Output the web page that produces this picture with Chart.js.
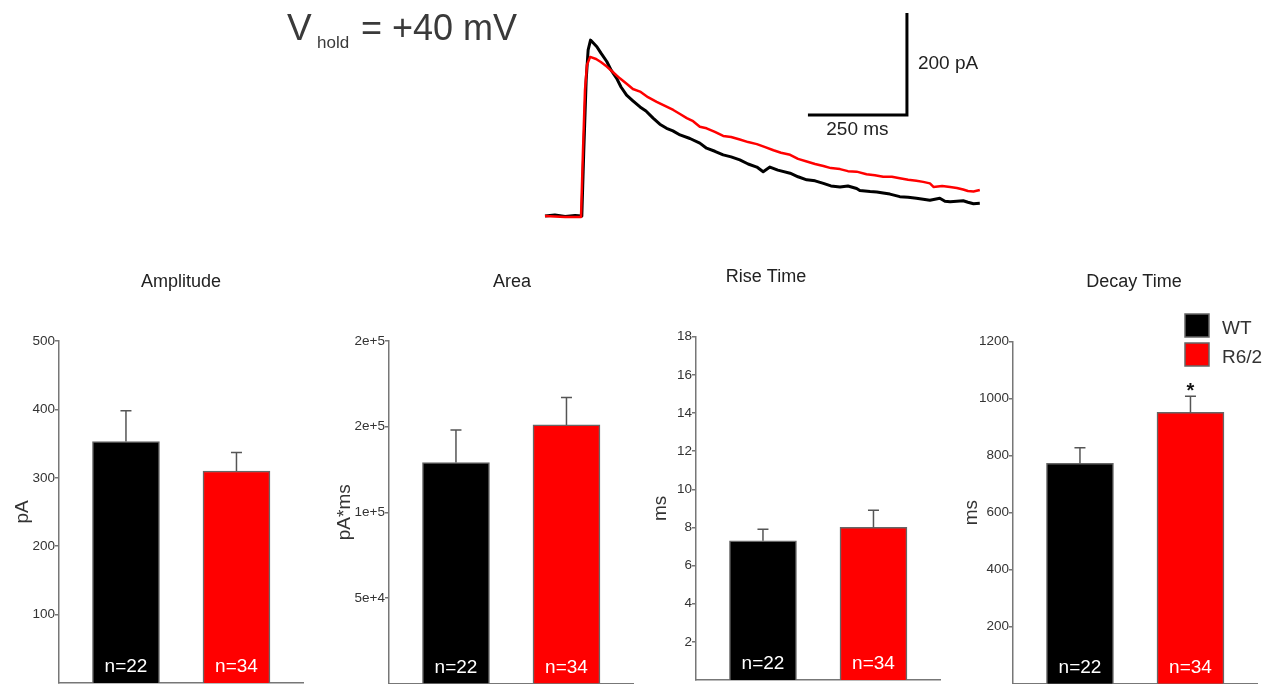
<!DOCTYPE html>
<html>
<head>
<meta charset="utf-8">
<script src="https://cdn.jsdelivr.net/npm/chart.js@4.4.1/dist/chart.umd.min.js"></script>
<style>
  body { margin: 0; background: #fff; width: 1271px; height: 684px; overflow: hidden; position: relative; }
  canvas { position: absolute; }
</style>
</head>
<body>
<canvas id="trace" width="730" height="240" style="left:270px;top:0px"></canvas>
<canvas id="amp"></canvas>
<canvas id="area"></canvas>
<canvas id="rise"></canvas>
<canvas id="decay"></canvas>
<script>
const FONT = "'Liberation Sans', Arial, sans-serif";
Chart.defaults.font.family = FONT;

// groups
const groups = ['WT', 'R6/2'];
const groupColors = ['#000000', '#ff0000'];
const groupN = ['n=22', 'n=34'];

// amplitude (pA)
const ampMean = [353, 310];
const ampSem = [45, 27];
const ampTicks = [100, 200, 300, 400, 500];
const ampTickLabels = ['100', '200', '300', '400', '500'];

// area (pA*ms)
const areaMean = [129000, 151000];
const areaSem = [19000, 16000];
const areaTicks = [50000, 100000, 150000, 200000];
const areaTickLabels = ['5e+4', '1e+5', '2e+5', '2e+5'];

// rise time (ms)
const riseMean = [7.3, 8.0];
const riseSem = [0.6, 0.9];
const riseTicks = [2, 4, 6, 8, 10, 12, 14, 16, 18];
const riseTickLabels = ['2', '4', '6', '8', '10', '12', '14', '16', '18'];

// decay time (ms)
const decayMean = [773, 952];
const decaySem = [55, 57];
const decayTicks = [200, 400, 600, 800, 1000, 1200];
const decayTickLabels = ['200', '400', '600', '800', '1000', '1200'];
const decaySig = ['', '*'];

// example currents at +40 mV (ms, pA from baseline)
const wtTime = [0, 25, 51, 76, 93, 98, 104, 109, 115, 131, 141, 156, 167, 181, 192, 206, 222, 240, 255,
  273, 290, 307, 323, 341, 366, 391, 408, 429, 450, 470, 492, 513, 535, 551, 568, 588, 619, 639, 661,
  682, 703, 722, 745, 765, 787, 795, 821, 838, 854, 871, 896, 917, 938, 955, 972, 997, 1010, 1023, 1040,
  1056, 1068, 1082, 1098];
const wtCurrent = [-2, 0, -3, -1, -2, 127, 265, 324, 343, 330, 318, 301, 284, 268, 251, 235, 224, 212, 204,
  190, 178, 170, 165, 157, 150, 141, 131, 125, 118, 114, 108, 100, 94, 85, 94, 88, 82, 75, 69,
  67, 62, 57, 55, 57, 52, 48, 46, 45, 43, 41, 36, 35, 33, 31, 29, 33, 27, 26, 27,
  28, 25, 22, 23];
const r62Time = [0, 25, 51, 76, 91, 96, 101, 106, 114, 129, 141, 156, 172, 189, 207, 222, 240, 260, 282,
  303, 324, 341, 358, 374, 391, 408, 429, 450, 470, 492, 513, 535, 556, 577, 596, 619, 639, 661, 682,
  703, 722, 745, 765, 787, 812, 833, 854, 876, 896, 917, 938, 955, 972, 981, 1003, 1023, 1040, 1056, 1068,
  1082, 1098];
const r62Current = [-2, -3, -4, -4, -4, 127, 245, 294, 310, 306, 300, 291, 280, 268, 257, 247, 242, 231, 222,
  214, 206, 198, 190, 184, 173, 170, 163, 155, 153, 148, 143, 139, 133, 127, 122, 118, 110, 105, 100,
  96, 92, 90, 86, 85, 80, 78, 75, 75, 72, 69, 67, 65, 62, 55, 57, 55, 53, 50, 47,
  46, 49];

// scale bar
const barCornerMs = 914, barCornerPa = 196;
const barLenMs = 250, barLenPa = 200;

const pts = (xs, ys) => xs.map((x, i) => ({ x: x, y: ys[i] }));

const traceText = {
  id: 'traceText',
  afterDraw(chart) {
    const ctx = chart.ctx, xs = chart.scales.x, ys = chart.scales.y;
    ctx.save();
    ctx.fillStyle = '#3a3a3a';
    ctx.textBaseline = 'alphabetic';
    ctx.textAlign = 'left';
    ctx.font = '37px ' + FONT;
    ctx.fillText('V', 17, 40);
    ctx.font = '17px ' + FONT;
    ctx.fillText('hold', 47, 48);
    ctx.font = '36px ' + FONT;
    ctx.fillText('= +40 mV', 91, 40);

    ctx.fillStyle = '#222';
    ctx.font = '19px ' + FONT;
    ctx.textBaseline = 'middle';
    ctx.fillText(barLenPa + ' pA', xs.getPixelForValue(barCornerMs) + 11, ys.getPixelForValue(barCornerPa + barLenPa / 2));
    ctx.textAlign = 'center';
    ctx.fillText(barLenMs + ' ms', xs.getPixelForValue(barCornerMs - barLenMs / 2), ys.getPixelForValue(barCornerPa) + 15);
    ctx.restore();
  }
};

new Chart(document.getElementById('trace'), {
  type: 'line',
  data: {
    datasets: [
      { data: pts(r62Time, r62Current), borderColor: '#ff0000', borderWidth: 2.5, borderJoinStyle: 'round' },
      { data: pts(wtTime, wtCurrent), borderColor: '#000000', borderWidth: 3, borderJoinStyle: 'round' },
      { data: [{ x: barCornerMs - barLenMs, y: barCornerPa }, { x: barCornerMs, y: barCornerPa }, { x: barCornerMs, y: barCornerPa + barLenPa }],
        borderColor: '#000000', borderWidth: 3, borderJoinStyle: 'miter', borderCapStyle: 'butt' }
    ]
  },
  options: {
    animation: false, responsive: false, events: [],
    layout: { padding: 0 },
    elements: { point: { radius: 0 }, line: { tension: 0 } },
    scales: {
      x: { type: 'linear', display: false, min: -694.4, max: 1149.0 },
      y: { type: 'linear', display: false, min: -49.0, max: 421.6 }
    },
    plugins: { legend: { display: false }, tooltip: { enabled: false } }
  },
  plugins: [traceText]
});

// error bars, n labels, titles, legend
const panelPlugin = {
  id: 'panel',
  afterDatasetsDraw(chart, args, o) {
    const ctx = chart.ctx, y = chart.scales.y;
    const meta = chart.getDatasetMeta(0);
    ctx.save();
    meta.data.forEach((bar, i) => {
      const yTop = y.getPixelForValue(o.mean[i] + o.sem[i]);
      ctx.strokeStyle = '#555';
      ctx.lineWidth = 1.5;
      ctx.beginPath();
      ctx.moveTo(bar.x, bar.y);
      ctx.lineTo(bar.x, yTop);
      ctx.moveTo(bar.x - 5.5, yTop);
      ctx.lineTo(bar.x + 5.5, yTop);
      ctx.stroke();

      ctx.fillStyle = '#ffffff';
      ctx.font = '19px ' + FONT;
      ctx.textAlign = 'center';
      ctx.textBaseline = 'alphabetic';
      ctx.fillText(groupN[i], bar.x, chart.chartArea.bottom - 11);

      if (o.sig && o.sig[i]) {
        ctx.fillStyle = '#111';
        ctx.font = 'bold 20px ' + FONT;
        ctx.fillText(o.sig[i], bar.x, yTop + 1);
      }
    });

    ctx.fillStyle = '#222';
    ctx.font = '18px ' + FONT;
    ctx.textAlign = 'center';
    ctx.fillText(o.title, o.titleX, o.titleY);

    if (o.legend) {
      groups.forEach((g, i) => {
        const bx = o.legendX, by = o.legendY + i * 29;
        ctx.fillStyle = groupColors[i];
        ctx.fillRect(bx, by, 24, 23);
        ctx.strokeStyle = '#666';
        ctx.lineWidth = 1.5;
        ctx.strokeRect(bx, by, 24, 23);
        ctx.fillStyle = '#333';
        ctx.font = '19px ' + FONT;
        ctx.textAlign = 'left';
        ctx.fillText(g, bx + 37, by + 20);
      });
    }
    ctx.restore();
  }
};

function barPanel(id, cfg) {
  const canvas = document.getElementById(id);
  const yW = 59, plotW = 244, canvasTop = 250;
  const left = cfg.axisX - yW;
  canvas.width = yW + plotW + 6;
  canvas.height = 684 - canvasTop;
  canvas.style.left = left + 'px';
  canvas.style.top = canvasTop + 'px';
  return new Chart(canvas, {
    type: 'bar',
    data: {
      datasets: [{
        data: groups.map((g, i) => ({ x: i + 1, y: cfg.mean[i] })),
        backgroundColor: groupColors,
        borderColor: '#666',
        borderWidth: 1.5,
        barThickness: 67
      }]
    },
    options: {
      animation: false, responsive: false, events: [],
      layout: { padding: { left: 0, right: 6, top: cfg.top - canvasTop, bottom: 684 - cfg.bottom } },
      scales: {
        x: {
          type: 'linear', min: 0.394, max: 2.602, offset: false,
          afterFit: s => { s.height = 0; s.paddingLeft = 0; s.paddingRight = 0; },
          ticks: { display: false },
          grid: { display: false, drawTicks: false },
          border: { display: true, color: '#777', width: 1.5 }
        },
        y: {
          min: 0, max: cfg.ticks[cfg.ticks.length - 1],
          afterFit: s => { s.width = yW; s.paddingTop = 0; s.paddingBottom = 0; },
          afterBuildTicks: s => { s.ticks = cfg.ticks.map(v => ({ value: v })); },
          ticks: {
            callback: (v, i) => cfg.tickLabels[i],
            color: '#333', font: { size: 13.5 }, padding: 0
          },
          grid: { display: true, drawOnChartArea: false, drawTicks: true, tickLength: 4, color: '#777', lineWidth: 1.5 },
          border: { display: true, color: '#777', width: 1.5 },
          title: { display: true, text: cfg.unit, color: '#333', font: { size: 19 }, padding: { top: cfg.unitPad, bottom: 0 } }
        }
      },
      plugins: {
        legend: { display: false },
        tooltip: { enabled: false },
        panel: {
          mean: cfg.mean, sem: cfg.sem, sig: cfg.sig,
          title: cfg.title, titleX: cfg.titleX - left, titleY: cfg.titleY - canvasTop,
          legend: !!cfg.legend,
          legendX: cfg.legend ? cfg.legend[0] - left : 0,
          legendY: cfg.legend ? cfg.legend[1] - canvasTop : 0
        }
      }
    },
    plugins: [panelPlugin]
  });
}

barPanel('amp', {
  axisX: 59, top: 341, bottom: 683, mean: ampMean, sem: ampSem,
  ticks: ampTicks, tickLabels: ampTickLabels, unit: 'pA', unitPad: 11,
  title: 'Amplitude', titleX: 181, titleY: 287
});
barPanel('area', {
  axisX: 389, top: 341, bottom: 683.5, mean: areaMean, sem: areaSem,
  ticks: areaTicks, tickLabels: areaTickLabels, unit: 'pA*ms', unitPad: 3.2,
  title: 'Area', titleX: 512, titleY: 287
});
barPanel('rise', {
  axisX: 696, top: 336.7, bottom: 680, mean: riseMean, sem: riseSem,
  ticks: riseTicks, tickLabels: riseTickLabels, unit: 'ms', unitPad: 12,
  title: 'Rise Time', titleX: 766, titleY: 282
});
barPanel('decay', {
  axisX: 1013, top: 341.7, bottom: 683.7, mean: decayMean, sem: decaySem, sig: decaySig,
  ticks: decayTicks, tickLabels: decayTickLabels, unit: 'ms', unitPad: 6,
  title: 'Decay Time', titleX: 1134, titleY: 287,
  legend: [1185, 314]
});
</script>
</body>
</html>
